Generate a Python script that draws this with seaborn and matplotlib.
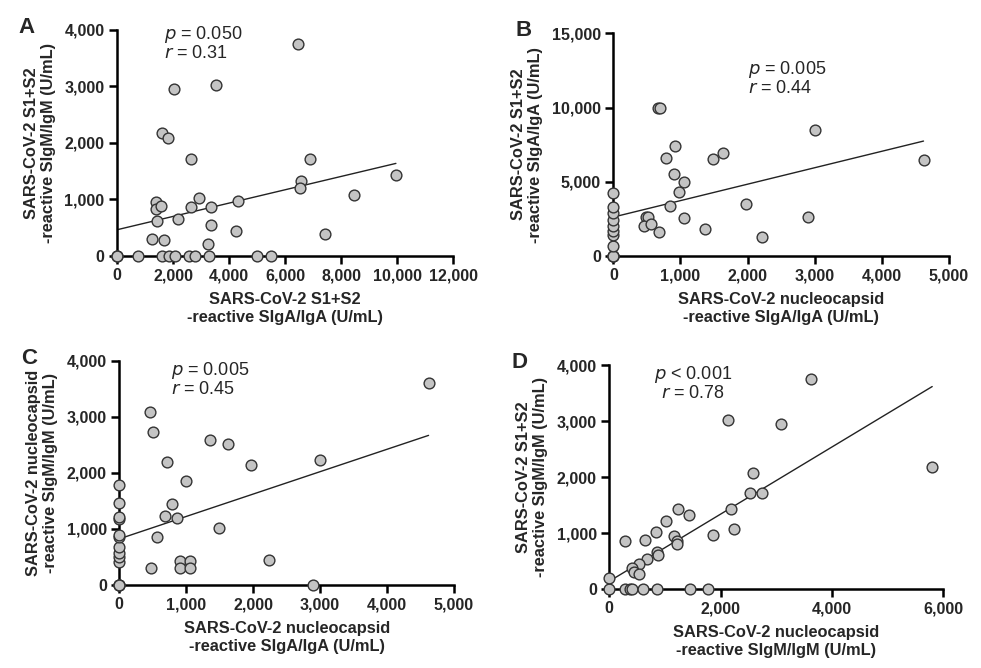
import numpy as np
import pandas as pd
import matplotlib
matplotlib.use('Agg')
import matplotlib.pyplot as plt
import matplotlib.ticker as mticker
import seaborn as sns

sns.set_style('ticks')
plt.rcParams['font.family'] = ['Liberation Sans', 'DejaVu Sans']

# panel A: S1+S2 SIgA/IgA vs S1+S2 SIgM/IgM (some points overlap at 0,0)
a_x = [0, 0, 0, 750, 1600, 1840, 2080, 2580, 2790, 3270, 4990, 5500,
       6470, 2040, 3530, 1590, 1830, 2640, 6900, 9960, 6580, 6530,
       8470, 1390, 1400, 1580, 2650, 2910, 3370, 4310, 1410, 2190,
       3350, 4260, 1260, 1680, 3240, 7420]
a_y = [0, 0, 0, 0, 0, 0, 0, 0, 0, 0, 0, 0,
       3760, 2950, 3020, 2180, 2080, 1720, 1720, 1440, 1320, 1210,
       1080, 950, 830, 880, 870, 1020, 860, 970, 620, 660,
       550, 440, 300, 280, 210, 385]

# panel B: N SIgA/IgA vs S1+S2 SIgA/IgA
b_x = [0, 0, 0, 0, 0, 0, 0, 0, 0, 0, 0, 0, 670,
       700, 3010, 4620, 920, 790, 1490, 1630, 900, 1060, 980,
       850, 1970, 480, 510, 1050, 450, 560, 680, 1360, 2220,
       2900]
b_y = [0, 0, 0, 0, 700, 1390, 1710, 2020, 2430, 2920, 3320, 4240, 9990,
       9990, 8490, 6470, 7410, 6580, 6530, 6920, 5500, 4990, 4290,
       3370, 3530, 2630, 2630, 2580, 2000, 2180, 1590, 1820, 1260,
       2630]

# panel C: N SIgA/IgA vs N SIgM/IgM
c_x = [0, 0, 0, 0, 0, 0, 0, 0, 0, 0, 0, 0, 0,
       0, 460, 500, 1355, 1625, 4620, 710, 1970, 3000, 990,
       790, 680, 860, 1490, 560, 470, 900, 900, 1050, 1055,
       2230, 2900]
c_y = [0, 0, 0, 0, 405, 505, 575, 675, 860, 890, 1180, 1220, 1460,
       1780, 3090, 2740, 2590, 2520, 3610, 2190, 2140, 2240, 1860,
       1440, 1240, 1200, 1010, 860, 300, 420, 300, 420, 300,
       450, 0]

# panel D: N SIgM/IgM vs S1+S2 SIgM/IgM
d_x = [0, 0, 280, 370, 400, 600, 860, 1450, 1780, 3620,
       2140, 3090, 5800, 2590, 2530, 2740, 2190, 2240, 1230, 1430,
       1020, 840, 650, 280, 1170, 1210, 1210, 1860, 850, 870,
       680, 530, 410, 440, 530]
d_y = [0, 190, 0, 0, 0, 0, 0, 0, 0, 3760,
       3020, 2950, 2180, 2070, 1710, 1710, 1430, 1070, 1430, 1320,
       1210, 1020, 880, 860, 950, 850, 810, 970, 670, 610,
       540, 440, 380, 300, 260]

panels = [
    dict(x=a_x, y=a_y, letter='A', pos=[0.1193, 0.6168, 0.3425, 0.3383],
         xmax=12000, xstep=2000, ymax=4000, ystep=1000,
         xlabel='SARS-CoV-2 S1+S2\n-reactive SIgA/IgA (U/mL)',
         ylabel='SARS-CoV-2 S1+S2\n-reactive SIgM/IgM (U/mL)',
         text='$\\it{p}$ = 0.050\n$\\it{r}$ = 0.31', tpos=(0.14, 1.025), ha='left'),
    dict(x=b_x, y=b_y, letter='B', pos=[0.6252, 0.6168, 0.3422, 0.3334],
         xmax=5000, xstep=1000, ymax=15000, ystep=5000,
         xlabel='SARS-CoV-2 nucleocapsid\n-reactive SIgA/IgA (U/mL)',
         ylabel='SARS-CoV-2 S1+S2\n-reactive SIgA/IgA (U/mL)',
         text='$\\it{p}$ = 0.005\n$\\it{r}$ = 0.44', tpos=(0.40, 0.885), ha='left'),
    dict(x=c_x, y=c_y, letter='C', pos=[0.1216, 0.1243, 0.3412, 0.3353],
         xmax=5000, xstep=1000, ymax=4000, ystep=1000,
         xlabel='SARS-CoV-2 nucleocapsid\n-reactive SIgA/IgA (U/mL)',
         ylabel='SARS-CoV-2 nucleocapsid\n-reactive SIgM/IgM (U/mL)',
         text='$\\it{p}$ = 0.005\n$\\it{r}$ = 0.45', tpos=(0.155, 1.005), ha='left'),
    dict(x=d_x, y=d_y, letter='D', pos=[0.6211, 0.1183, 0.3405, 0.3349],
         xmax=6000, xstep=2000, ymax=4000, ystep=1000,
         xlabel='SARS-CoV-2 nucleocapsid\n-reactive SIgM/IgM (U/mL)',
         ylabel='SARS-CoV-2 S1+S2\n-reactive SIgM/IgM (U/mL)',
         text='$\\it{p}$ < 0.001\n$\\it{r}$ = 0.78', tpos=(0.25, 1.005), ha='center'),
]

fig = plt.figure(figsize=(9.81, 6.68), dpi=100)

for p in panels:
    ax = fig.add_axes(p['pos'])
    df = pd.DataFrame({'x': p['x'], 'y': p['y']})
    sns.regplot(data=df, x='x', y='y', scatter=False, ci=None, ax=ax,
                line_kws=dict(color='#222222', lw=1.0))
    sns.scatterplot(data=df, x='x', y='y', ax=ax, s=60, color='#c4c4c4',
                    edgecolor='#333333', linewidth=1.0, clip_on=False, zorder=5)
    ax.set_xlim(0, p['xmax'])
    ax.set_ylim(0, p['ymax'])
    ax.set_xticks(np.arange(0, p['xmax'] + 1, p['xstep']))
    ax.set_yticks(np.arange(0, p['ymax'] + 1, p['ystep']))
    fmt = mticker.FuncFormatter(lambda v, pos: f'{int(v):,}')
    ax.xaxis.set_major_formatter(fmt)
    ax.yaxis.set_major_formatter(fmt)
    for s in ['top', 'right']:
        ax.spines[s].set_visible(False)
    for s in ['left', 'bottom']:
        ax.spines[s].set_linewidth(1.8)
        ax.spines[s].set_color('black')
    ax.tick_params(direction='out', length=6, width=1.8, labelsize=11.5,
                   color='black', pad=3)
    for lab in ax.get_xticklabels() + ax.get_yticklabels():
        lab.set_fontweight('bold')
    ax.set_xlabel(p['xlabel'], fontsize=11.8, fontweight='bold', labelpad=6,
                  linespacing=1.25)
    ax.set_ylabel(p['ylabel'], fontsize=11.8, fontweight='bold', labelpad=6,
                  linespacing=1.2)
    ax.text(p['tpos'][0], p['tpos'][1], p['text'], transform=ax.transAxes,
            fontsize=13, ha=p['ha'], va='top', linespacing=1.0)
    fig.text(p['pos'][0] - 0.10, p['pos'][1] + p['pos'][3] + 0.02, p['letter'],
             fontsize=16, fontweight='bold', va='top', ha='left')

fig.savefig('out.png', dpi=100)
